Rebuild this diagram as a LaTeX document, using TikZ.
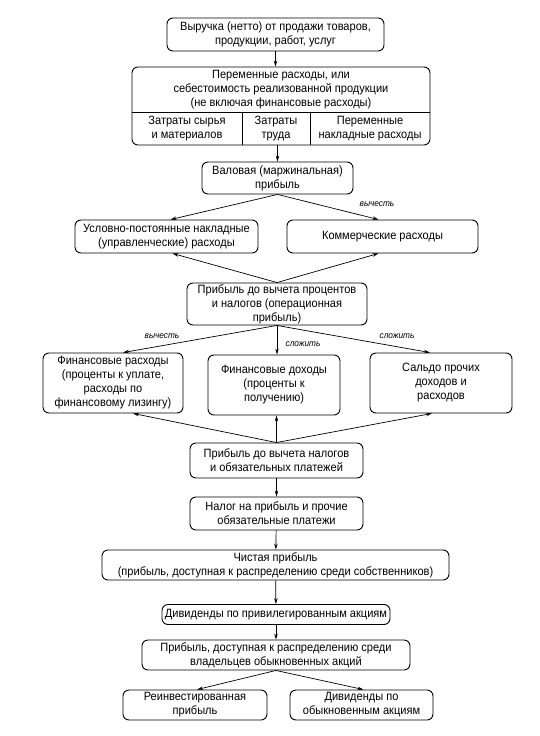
\documentclass[tikz,border=0pt]{standalone}
\usepackage{fontspec}
\setmainfont{Liberation Sans}[FakeStretch=0.92]
\usetikzlibrary{arrows.meta}

\begin{document}
\begin{tikzpicture}[
      x=1pt, y=-1pt,
      inner sep=0pt,
      font=\fontsize{12}{14}\selectfont,
      box/.style={draw, rounded corners=6pt, line width=0.9pt, align=center},
      arr/.style={-{Stealth[length=6pt,width=3.5pt]}, line width=0.7pt},
      lbl/.style={font=\fontsize{9}{10}\selectfont\itshape}
    ]
    \useasboundingbox (0,0) rectangle (540,736);
    \node (rev) [box, minimum width=217pt, minimum height=33pt] at (275.5,34.5)
      {Выручка (нетто) от продажи товаров,\\продукции, работ, услуг};
    \node (var) [box, minimum width=298pt, minimum height=78pt] at (281,106) {};
    \draw[line width=0.9pt] (var.west |- 0,112) -- (var.east |- 0,112)
      (242,112) -- (242,145) (310,112) -- (310,145);
    \node (varhead) [align=center] at (281,89.5)
      {Переменные расходы, или\\себестоимость реализованной продукции\\(не включая финансовые расходы)};
    \node (raw) [align=center] at (187,128.5) {Затраты сырья\\и материалов};
    \node (labour) [align=center] at (276,128.5) {Затраты\\труда};
    \node (overhead) [align=center] at (370,128.5) {Переменные\\накладные расходы};
    \node (gross) [box, minimum width=151pt, minimum height=32pt] at (277.5,178)
      {Валовая (маржинальная)\\прибыль};
    \node (fixed) [box, minimum width=183pt, minimum height=33pt] at (166.5,236.5)
      {Условно-постоянные накладные\\(управленческие) расходы};
    \node (comm) [box, minimum width=191pt, minimum height=33pt] at (382.5,236.5)
      {Коммерческие расходы};
    \node (ebit) [box, minimum width=180pt, minimum height=42pt] at (277,304)
      {Прибыль до вычета процентов\\и налогов (операционная\\прибыль)};
    \node (finexp) [box, minimum width=140pt, minimum height=60pt] at (113,383)
      {Финансовые расходы\\(проценты к уплате,\\расходы по\\финансовому лизингу)};
    \node (fininc) [box, minimum width=132pt, minimum height=60pt] at (274,385)
      {Финансовые доходы\\(проценты к\\получению)};
    \node (other) [box, minimum width=142pt, minimum height=60pt] at (441,383)
      {Сальдо прочих\\доходов и\\расходов};
    \node (ebt) [box, minimum width=173pt, minimum height=35pt] at (276.5,460.5)
      {Прибыль до вычета налогов\\и обязательных платежей};
    \node (tax) [box, minimum width=173pt, minimum height=33pt] at (276.5,513.5)
      {Налог на прибыль и прочие\\обязательные платежи};
    \node (net) [box, minimum width=347pt, minimum height=30pt] at (275.5,565)
      {Чистая прибыль\\(прибыль, доступная к распределению среди собственников)};
    \node (pref) [box, minimum width=228pt, minimum height=20pt] at (276,614.5)
      {Дивиденды по привилегированным акциям};
    \node (common) [box, minimum width=268pt, minimum height=30pt] at (276,655)
      {Прибыль, доступная к распределению среди\\владельцев обыкновенных акций};
    \node (reinv) [box, minimum width=144pt, minimum height=30pt] at (195,705)
      {Реинвестированная\\прибыль};
    \node (divc) [box, minimum width=143pt, minimum height=30pt] at (361.5,705)
      {Дивиденды по\\обыкновенным акциям};

    \node (minus1) [lbl] at (377,204) {вычесть};
    \node (minus2) [lbl] at (162,336) {вычесть};
    \node (plus1) [lbl] at (303,344) {сложить};
    \node (plus2) [lbl] at (397,336) {сложить};

    \draw[arr] (rev.south) -- (rev.south |- var.north);
    \draw[arr] (var.south -| gross) -- (gross.north);
    \draw[arr] (gross.south) -- ([xshift=4pt]fixed.north);
    \draw[arr] (gross.south) -- ([xshift=-4pt]comm.north);
    \draw[arr] (ebit.north) -- ([xshift=6pt]fixed.south);
    \draw[arr] (ebit.north) -- ([xshift=-4pt]comm.south);
    \draw[arr] (ebit.south) -- ([xshift=10pt]finexp.north);
    \draw[arr] (ebit.south) -- (ebit.south |- fininc.north);
    \draw[arr] (ebit.south) -- ([xshift=-11pt]other.north);
    \draw[arr] (ebt.north) -- ([xshift=20pt]finexp.south);
    \draw[arr] (ebt.north) -- (ebt.north |- fininc.south);
    \draw[arr] (ebt.north) -- ([xshift=-9pt]other.south);
    \draw[arr] (ebt) -- (tax);
    \draw[arr] (tax) -- (net);
    \draw[arr] (net) -- (pref);
    \draw[arr] (pref) -- (common);
    \draw[arr] (common.south) -- ([xshift=2pt]reinv.north);
    \draw[arr] (common.south) -- ([xshift=2pt]divc.north);
\end{tikzpicture}
\end{document}
